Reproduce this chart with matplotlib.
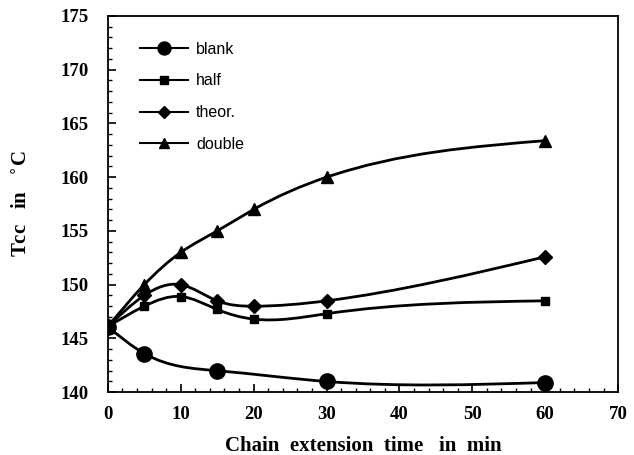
import numpy as np
import matplotlib
matplotlib.use("Agg")
from matplotlib import pyplot as plt
from matplotlib.path import Path
from matplotlib.patches import PathPatch
from matplotlib.font_manager import FontProperties

# data
time_blank = [0, 5, 15, 30, 60]
tcc_blank = [146.1, 143.6, 142.0, 141.0, 140.9]
time_mod = [0, 5, 10, 15, 20, 30, 60]
tcc_half = [146.1, 148.0, 148.9, 147.7, 146.8, 147.3, 148.5]
tcc_theor = [146.1, 149.0, 150.0, 148.5, 148.0, 148.5, 152.6]
tcc_double = [146.1, 150.0, 153.0, 155.0, 157.0, 160.0, 163.4]

series = [
    ("blank", time_blank, tcc_blank, "o", 11),
    ("half", time_mod, tcc_half, "s", 6),
    ("theor.", time_mod, tcc_theor, "D", 7),
    ("double", time_mod, tcc_double, "^", 8),
]


def smooth_path(x, y):
    """Natural cubic spline through the points, drawn as bezier segments."""
    x = np.asarray(x, float)
    y = np.asarray(y, float)
    n = len(x)
    h = np.diff(x)
    A = np.zeros((n, n))
    b = np.zeros(n)
    A[0, 0] = A[-1, -1] = 1
    for i in range(1, n - 1):
        A[i, i - 1] = h[i - 1]
        A[i, i] = 2 * (h[i - 1] + h[i])
        A[i, i + 1] = h[i]
        b[i] = 6 * ((y[i + 1] - y[i]) / h[i] - (y[i] - y[i - 1]) / h[i - 1])
    M = np.linalg.solve(A, b)
    verts = [(x[0], y[0])]
    codes = [Path.MOVETO]
    for i in range(n - 1):
        s = (y[i + 1] - y[i]) / h[i]
        d0 = s - h[i] * (2 * M[i] + M[i + 1]) / 6
        d1 = s + h[i] * (M[i] + 2 * M[i + 1]) / 6
        verts += [(x[i] + h[i] / 3, y[i] + d0 * h[i] / 3),
                  (x[i + 1] - h[i] / 3, y[i + 1] - d1 * h[i] / 3),
                  (x[i + 1], y[i + 1])]
        codes += [Path.CURVE4] * 3
    return Path(verts, codes)


fig, ax = plt.subplots(figsize=(6.34, 4.55), dpi=100)
fig.subplots_adjust(left=0.170, right=0.975, top=0.965, bottom=0.138)

for name, xs, ys, mk, ms in series:
    ax.add_patch(PathPatch(smooth_path(xs, ys), facecolor="none",
                           edgecolor="black", lw=2))
    ax.plot(xs, ys, linestyle="none", marker=mk, ms=ms, color="black")
    ax.plot([], [], color="black", lw=1.5, marker=mk, ms=ms * 0.85, label=name)

ax.set_xlim(0, 70)
ax.set_ylim(140, 175)
ax.set_xticks(range(0, 71, 10))
ax.set_xticks(range(0, 71, 2), minor=True)
ax.set_yticks(range(140, 176, 5))
ax.set_yticks(range(140, 176, 1), minor=True)
ax.tick_params(which="both", direction="in", top=False, right=False)
ax.tick_params(which="major", length=6, width=1.2)
ax.tick_params(which="minor", length=3, width=1)
for s in ax.spines.values():
    s.set_linewidth(1.3)

serif = {"family": "Liberation Serif", "weight": "bold"}
for lab in ax.get_xticklabels() + ax.get_yticklabels():
    lab.set_fontproperties(FontProperties(size=13.5, **serif))
ax.tick_params(axis="x", pad=10)
ax.tick_params(axis="y", pad=14)

ax.set_xlabel("Chain  extension  time   in  min", fontsize=15, labelpad=9, **serif)
ax.set_ylabel("Tcc   in   $^{\\circ}$C", fontsize=15, labelpad=20, **serif)

leg = ax.legend(loc="upper left", bbox_to_anchor=(0.035, 0.97), frameon=False,
                prop={"family": "Liberation Sans", "size": 11.5},
                handlelength=3, labelspacing=1.05, handletextpad=0.5)

fig.savefig("out.png", dpi=100)
